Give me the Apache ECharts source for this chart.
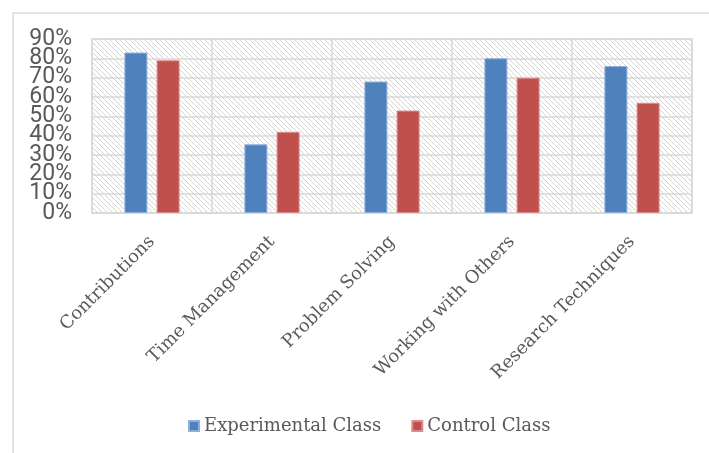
<!DOCTYPE html>
<html>
<head>
<meta charset="utf-8">
<script src="https://cdn.jsdelivr.net/npm/echarts@6/dist/echarts.min.js"></script>
<style>
  html, body { margin: 0; padding: 0; background: #fff; }
  #chart { width: 709px; height: 453px; }
</style>
</head>
<body>
<div id="chart"></div>
<script>
// Skill categories on the x axis
const categories = ['Contributions', 'Time Management', 'Problem Solving', 'Working with Others', 'Research Techniques'];
// Percentage of students per class
const experimental = [83, 35.5, 68, 80, 76];
const control = [79, 42, 53, 70, 57];
const seriesNames = ['Experimental Class', 'Control Class'];
// Value axis range and step (percent)
const yMax = 90;
const yStep = 10;

// Diagonal hatch tile for the plot background
function hatchTile() {
  const s = 5;
  const c = document.createElement('canvas');
  c.width = s; c.height = s;
  const ctx = c.getContext('2d');
  ctx.fillStyle = '#ffffff';
  ctx.fillRect(0, 0, s, s);
  ctx.strokeStyle = '#d4d4d4';
  ctx.lineWidth = 1;
  ctx.beginPath();
  ctx.moveTo(-1, -1); ctx.lineTo(s + 1, s + 1);
  ctx.moveTo(-1, s - 1); ctx.lineTo(1, s + 1);
  ctx.moveTo(s - 1, -1); ctx.lineTo(s + 1, 1);
  ctx.stroke();
  return c;
}

// The tick labels sit tightly stacked; two overlaid axes each carry
// every other label so none of them gets dropped for overlapping.
function valueAxis(parity, withGrid) {
  return {
    type: 'value',
    position: 'left',
    offset: 0,
    min: 0,
    max: yMax,
    interval: yStep,
    axisLine: { show: false },
    axisTick: { show: false },
    splitLine: { show: withGrid, lineStyle: { color: '#d9d9d9', width: 1.5 } },
    axisLabel: {
      formatter: (v) => ((Math.round(v / yStep) % 2 === parity) ? v + '%' : ''),
      margin: 20,
      fontFamily: 'Roboto',
      fontSize: 23,
      color: '#595959'
    }
  };
}

const chart = echarts.init(document.getElementById('chart'), null, { renderer: 'canvas' });
chart.setOption({
  animation: false,
  backgroundColor: '#ffffff',
  graphic: [
    { type: 'line', shape: { x1: 13, y1: 13, x2: 709, y2: 13 }, style: { stroke: '#d9d9d9', lineWidth: 1.5 } },
    { type: 'line', shape: { x1: 13, y1: 13, x2: 13, y2: 453 }, style: { stroke: '#d9d9d9', lineWidth: 1.5 } }
  ],
  grid: {
    left: 92, right: 17, top: 39, bottom: 240,
    show: true,
    backgroundColor: { image: hatchTile(), repeat: 'repeat' },
    borderColor: '#d9d9d9',
    borderWidth: 1.5
  },
  legend: {
    data: seriesNames,
    bottom: 13,
    left: 183,
    itemWidth: 10,
    itemHeight: 10,
    itemGap: 30,
    icon: 'rect',
    textStyle: { fontFamily: 'DejaVu Serif', fontSize: 18, color: '#595959' }
  },
  xAxis: {
    type: 'category',
    data: categories,
    axisTick: { show: false },
    axisLine: { show: true, lineStyle: { color: '#d9d9d9', width: 1.5 } },
    splitLine: { show: true, interval: 0, lineStyle: { color: '#d9d9d9', width: 1.5 } },
    axisLabel: {
      interval: 0,
      rotate: 45,
      margin: 26,
      fontFamily: 'DejaVu Serif',
      fontSize: 18,
      color: '#595959'
    }
  },
  yAxis: [valueAxis(0, true), valueAxis(1, false)],
  series: [
    {
      name: seriesNames[0],
      type: 'bar',
      data: experimental,
      barWidth: 23,
      barGap: '40%',
      itemStyle: { color: '#4f81bd', borderColor: '#8eaedb', borderWidth: 1 }
    },
    {
      name: seriesNames[1],
      type: 'bar',
      data: control,
      barWidth: 23,
      itemStyle: { color: '#c0504d', borderColor: '#dc8d8b', borderWidth: 1 }
    }
  ]
});
</script>
</body>
</html>
